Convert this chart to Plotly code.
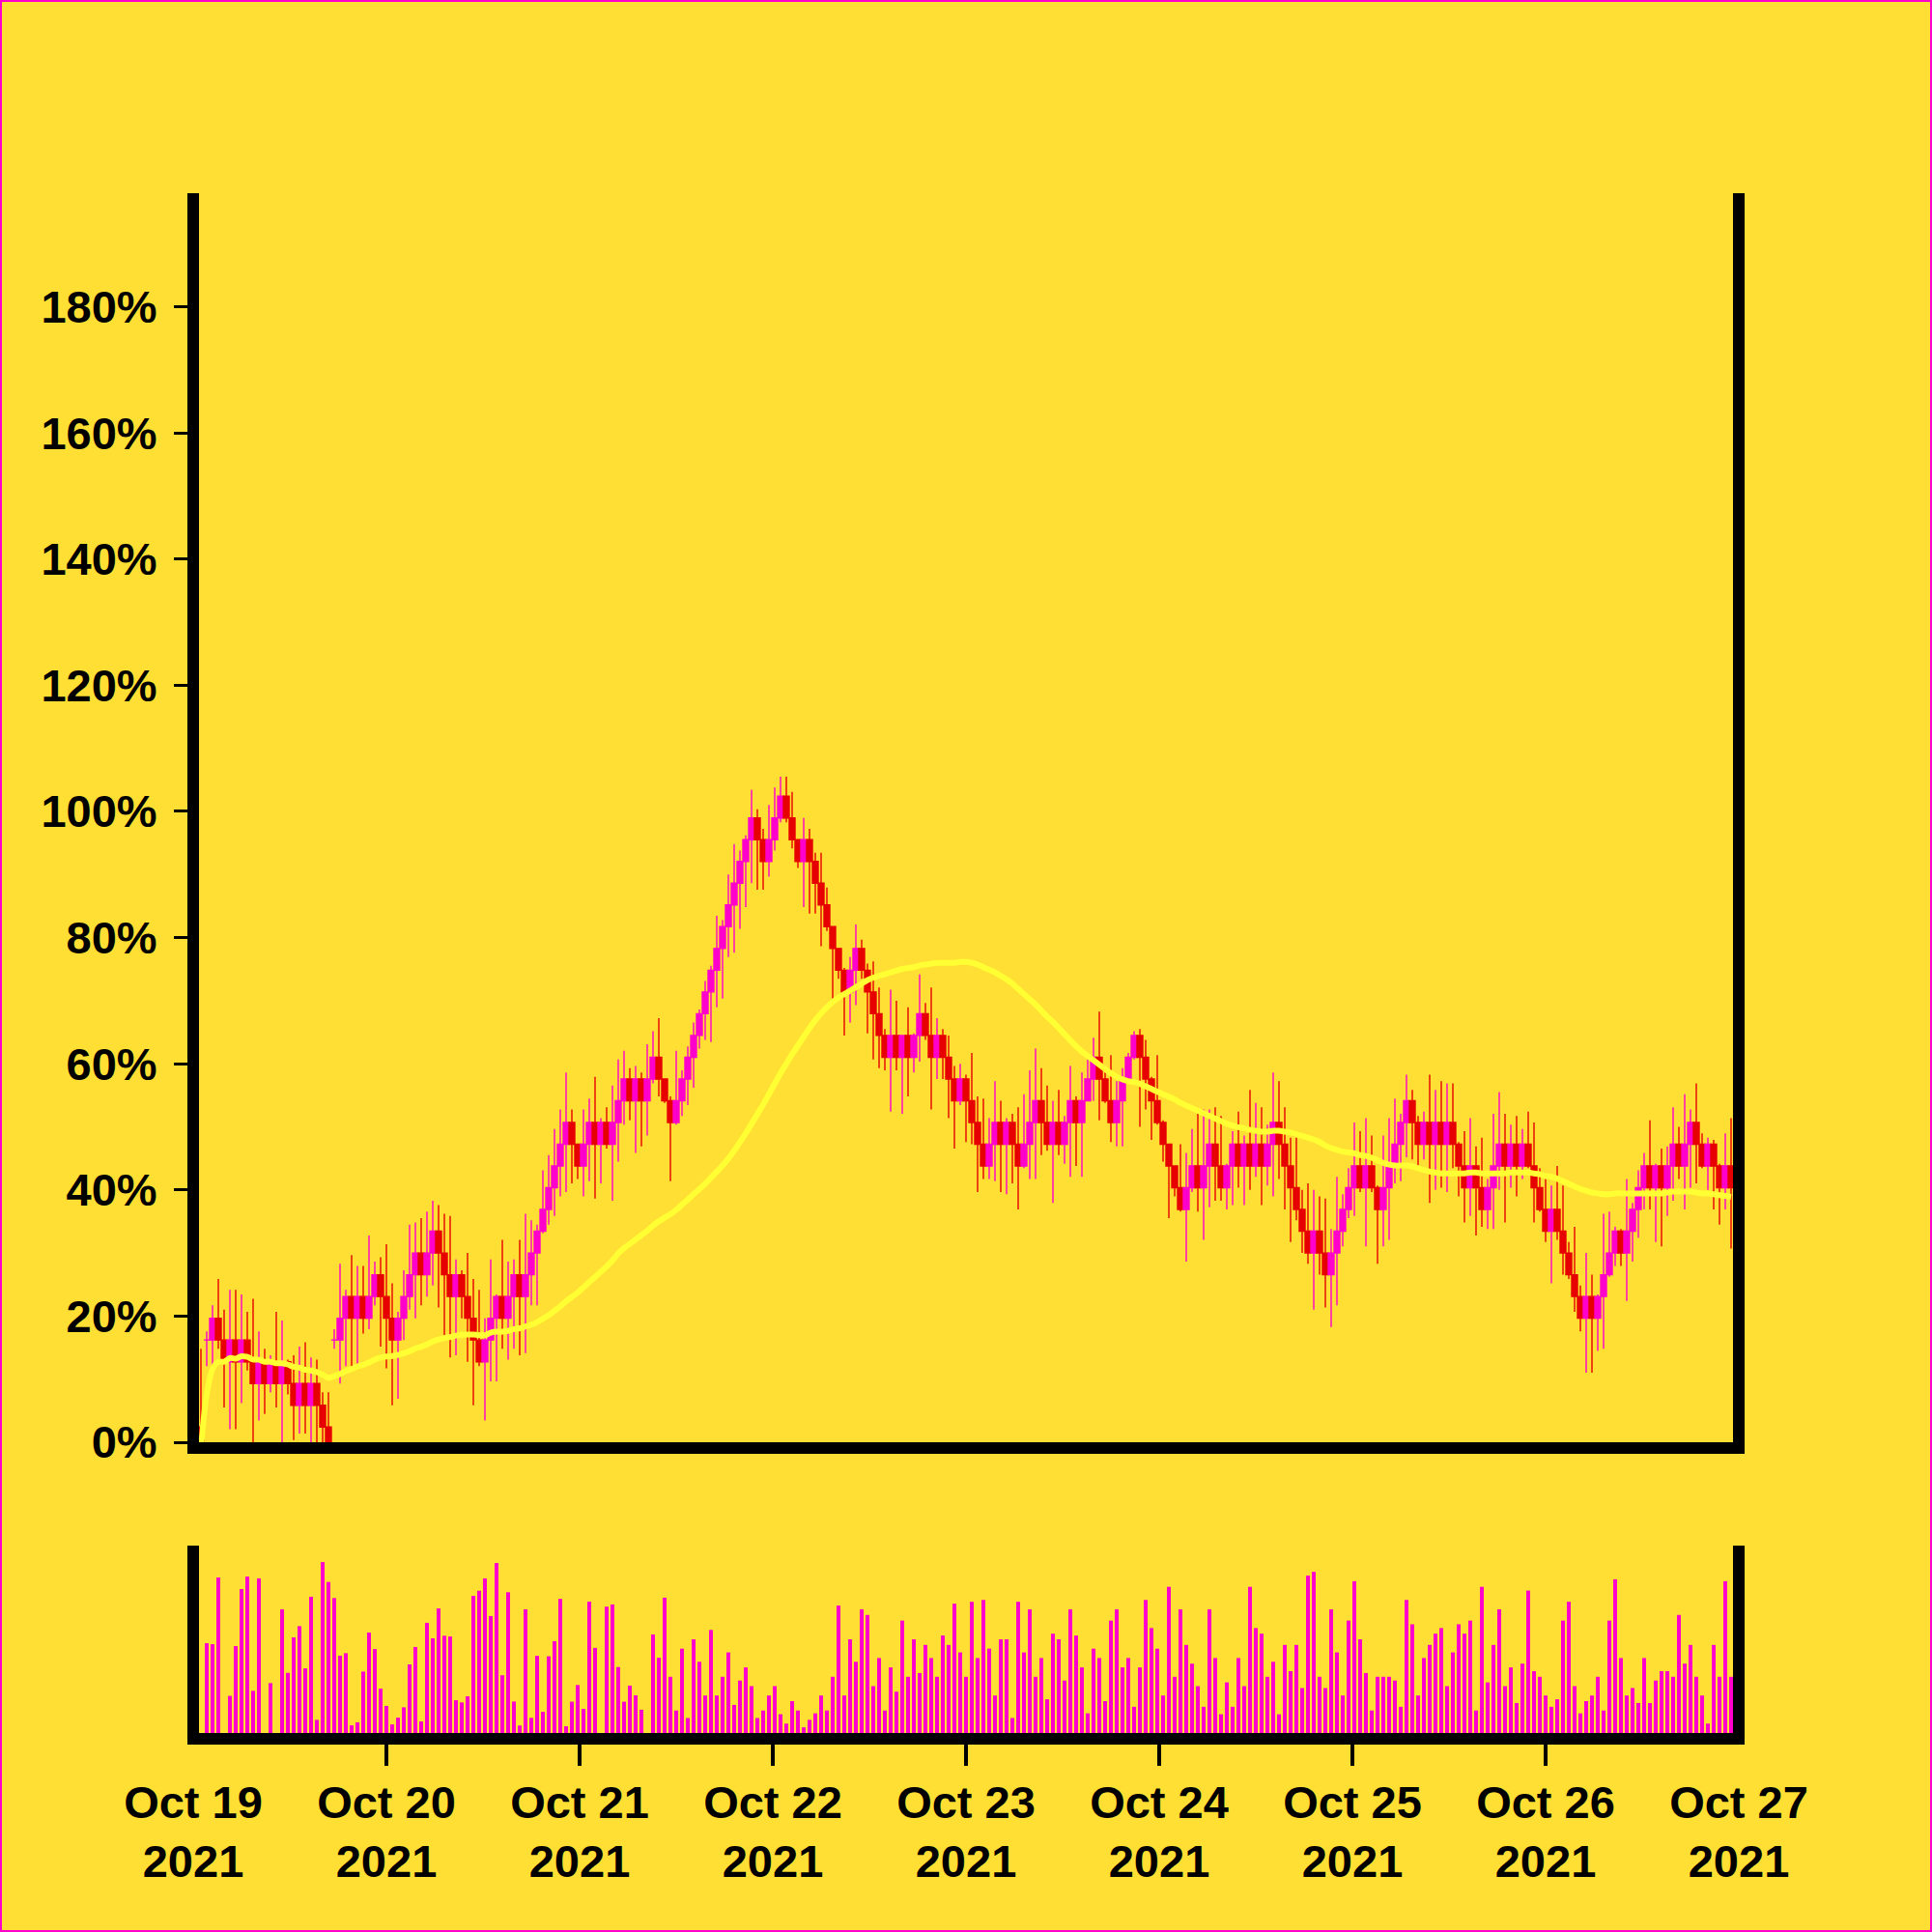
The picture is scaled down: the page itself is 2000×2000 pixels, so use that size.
import pandas as pd
import plotly.graph_objects as go

# ---------------- data ----------------
BASE_PRICE = 290.0          # reference price for 0 %
N_CANDLES = 265
times = pd.date_range("2021-10-19 00:57:36", periods=N_CANDLES, freq="2592s")

open_ = [
    297, 337, 337, 347, 337, 327, 337, 327, 337, 327,
    317, 327, 317, 327, 317, 327, 317, 307, 317, 307,
    317, 307, 297, 337, 337, 347, 357, 347, 357, 347,
    357, 367, 357, 347, 337, 347, 357, 367, 377, 367,
    377, 387, 377, 367, 357, 367, 357, 347, 337, 327,
    337, 347, 357, 347, 357, 367, 357, 367, 377, 387,
    397, 407, 417, 427, 437, 427, 417, 427, 437, 427,
    437, 427, 437, 447, 457, 447, 457, 447, 457, 467,
    457, 447, 437, 447, 457, 467, 477, 487, 497, 507,
    517, 527, 537, 547, 557, 567, 577, 567, 557, 567,
    577, 587, 577, 567, 557, 567, 557, 547, 537, 527,
    517, 507, 497, 507, 517, 507, 497, 487, 477, 467,
    477, 467, 477, 467, 477, 487, 477, 467, 477, 467,
    457, 447, 457, 447, 437, 427, 417, 427, 437, 427,
    437, 427, 417, 427, 437, 447, 437, 427, 437, 427,
    437, 447, 437, 447, 457, 467, 457, 447, 437, 447,
    457, 467, 477, 467, 457, 447, 437, 427, 417, 407,
    397, 407, 417, 407, 417, 427, 417, 407, 417, 427,
    417, 427, 417, 427, 417, 427, 437, 427, 417, 407,
    397, 387, 377, 387, 377, 367, 377, 387, 397, 407,
    417, 407, 417, 407, 397, 407, 417, 427, 437, 447,
    437, 427, 437, 427, 437, 427, 437, 427, 417, 407,
    417, 407, 397, 407, 417, 427, 417, 427, 417, 427,
    417, 407, 397, 387, 397, 387, 377, 367, 357, 347,
    357, 347, 357, 367, 377, 387, 377, 387, 397, 407,
    417, 407, 417, 407, 417, 427, 417, 427, 437, 427,
    417, 427, 417, 407, 417,
]
close = [
    287, 337, 347, 337, 327, 337, 327, 337, 327, 317,
    327, 317, 327, 317, 327, 317, 307, 317, 307, 317,
    307, 297, 287, 337, 347, 357, 347, 357, 347, 357,
    367, 357, 347, 337, 347, 357, 367, 377, 367, 377,
    387, 377, 367, 357, 367, 357, 347, 337, 327, 337,
    347, 357, 347, 357, 367, 357, 367, 377, 387, 397,
    407, 417, 427, 437, 427, 417, 427, 437, 427, 437,
    427, 437, 447, 457, 447, 457, 447, 457, 467, 457,
    447, 437, 447, 457, 467, 477, 487, 497, 507, 517,
    527, 537, 547, 557, 567, 577, 567, 557, 567, 577,
    587, 577, 567, 557, 567, 557, 547, 537, 527, 517,
    507, 497, 507, 517, 507, 497, 487, 477, 467, 477,
    467, 477, 467, 477, 487, 477, 467, 477, 467, 457,
    447, 457, 447, 437, 427, 417, 427, 437, 427, 437,
    427, 417, 427, 437, 447, 437, 427, 437, 427, 437,
    447, 437, 447, 457, 467, 457, 447, 437, 447, 457,
    467, 477, 467, 457, 447, 437, 427, 417, 407, 397,
    407, 417, 407, 417, 427, 417, 407, 417, 427, 417,
    427, 417, 427, 417, 427, 437, 427, 417, 407, 397,
    387, 377, 387, 377, 367, 377, 387, 397, 407, 417,
    407, 417, 407, 397, 407, 417, 427, 437, 447, 437,
    427, 437, 427, 437, 427, 437, 427, 417, 407, 417,
    407, 397, 407, 417, 427, 417, 427, 417, 427, 417,
    407, 397, 387, 397, 387, 377, 367, 357, 347, 357,
    347, 357, 367, 377, 387, 377, 387, 397, 407, 417,
    407, 417, 407, 417, 427, 417, 427, 437, 427, 417,
    427, 417, 407, 417, 407,
]
high = [
    333, 341, 353, 365, 351, 360, 360, 358, 350, 356,
    341, 333, 330, 350, 346, 328, 330, 334, 336, 329,
    328, 313, 313, 342, 372, 360, 376, 371, 371, 385,
    373, 375, 381, 363, 350, 369, 390, 391, 393, 396,
    401, 399, 395, 394, 374, 369, 377, 365, 360, 347,
    374, 358, 383, 373, 374, 383, 395, 392, 390, 415,
    422, 434, 443, 460, 443, 427, 443, 448, 458, 439,
    444, 454, 466, 470, 462, 463, 460, 473, 479, 485,
    457, 449, 470, 461, 472, 483, 489, 502, 509, 532,
    530, 551, 565, 562, 569, 590, 581, 572, 583, 591,
    596, 596, 589, 567, 577, 572, 561, 561, 545, 527,
    517, 508, 513, 528, 521, 510, 511, 499, 480, 498,
    493, 477, 490, 478, 505, 492, 499, 485, 480, 477,
    463, 464, 459, 469, 449, 448, 439, 456, 447, 439,
    441, 444, 450, 461, 471, 462, 454, 447, 452, 440,
    463, 449, 460, 466, 476, 488, 460, 468, 456, 462,
    469, 479, 480, 475, 458, 468, 438, 427, 417, 427,
    423, 434, 441, 443, 443, 444, 440, 418, 433, 442,
    431, 452, 446, 444, 436, 460, 456, 444, 430, 430,
    406, 409, 406, 403, 402, 388, 412, 404, 416, 437,
    433, 439, 431, 408, 431, 439, 448, 441, 459, 452,
    440, 442, 459, 452, 456, 455, 455, 428, 433, 439,
    426, 430, 411, 441, 451, 441, 436, 440, 434, 442,
    437, 416, 411, 408, 417, 408, 382, 389, 362, 377,
    367, 358, 395, 396, 389, 388, 411, 400, 415, 423,
    438, 418, 425, 426, 444, 435, 450, 443, 455, 432,
    430, 429, 418, 432, 439,
]
low = [
    282, 325, 325, 333, 306, 296, 296, 308, 323, 290,
    300, 303, 313, 306, 290, 312, 291, 294, 294, 290,
    290, 290, 282, 333, 317, 325, 325, 325, 340, 342,
    353, 334, 324, 307, 310, 337, 351, 347, 353, 357,
    362, 352, 339, 329, 330, 347, 327, 307, 325, 300,
    318, 318, 333, 328, 333, 330, 331, 353, 353, 386,
    390, 394, 403, 405, 409, 411, 403, 410, 402, 409,
    425, 401, 419, 436, 438, 423, 426, 431, 455, 449,
    446, 410, 436, 440, 445, 453, 471, 475, 474, 490,
    494, 513, 515, 526, 536, 547, 544, 544, 550, 562,
    575, 575, 563, 554, 536, 533, 533, 518, 525, 494,
    503, 477, 483, 491, 503, 478, 466, 462, 461, 442,
    461, 441, 449, 460, 465, 475, 443, 457, 457, 439,
    425, 445, 428, 427, 405, 411, 411, 410, 405, 404,
    409, 397, 416, 411, 411, 422, 424, 400, 422, 418,
    412, 417, 412, 447, 447, 438, 446, 428, 426, 426,
    456, 466, 435, 443, 429, 436, 419, 393, 403, 396,
    373, 405, 396, 383, 398, 401, 401, 397, 399, 407,
    399, 406, 412, 399, 408, 403, 411, 397, 382, 392,
    377, 372, 351, 367, 352, 343, 353, 380, 393, 394,
    405, 380, 405, 372, 380, 383, 409, 410, 421, 420,
    416, 420, 400, 406, 407, 405, 416, 403, 391, 394,
    385, 389, 388, 388, 406, 391, 407, 403, 411, 416,
    391, 396, 382, 363, 383, 367, 365, 350, 341, 322,
    322, 332, 333, 366, 371, 371, 355, 373, 384, 397,
    397, 382, 380, 394, 401, 411, 397, 407, 409, 416,
    406, 397, 390, 397, 379,
]
volume = [
    0, 47.9, 47.4, 83.0, 0, 19.8, 46.4, 76.8, 83.5, 22.5,
    82.5, 0, 26.6, 0, 66.0, 32.1, 51.0, 57.0, 34.5, 72.7,
    7.0, 91.2, 80.6, 72.0, 41.2, 42.6, 4.1, 5.7, 32.8, 53.6,
    44.8, 23.7, 14.4, 4.6, 8.2, 13.7, 36.6, 45.9, 6.2, 58.8,
    50.5, 66.5, 51.9, 51.5, 17.5, 16.3, 19.6, 73.2, 75.9, 82.5,
    62.4, 90.7, 30.8, 75.1, 16.8, 4.0, 66.0, 8.1, 41.2, 11.3,
    40.9, 49.0, 71.6, 3.6, 16.7, 25.6, 12.9, 70.1, 45.4, 0,
    67.4, 68.6, 35.2, 16.7, 25.3, 20.1, 12.4, 0, 52.6, 40.2,
    72.2, 30, 12, 45, 8, 50, 38, 20, 55, 20,
    30, 43, 15, 28, 35, 25, 8, 12, 20, 25,
    10, 5, 17, 12, 3, 7, 10.5, 20, 12, 30,
    68, 20, 50, 38, 66, 63, 25, 40, 12, 35,
    22, 60, 30, 50, 32, 47, 40, 30, 52, 47,
    69, 43, 30, 70, 40, 71, 45, 20, 50, 50,
    8, 70, 43, 66, 30, 40, 18, 53, 50, 28,
    66, 52, 35, 10.5, 45, 40, 17, 60, 66, 35,
    40, 14, 35, 71, 56, 45, 20, 78, 30, 66,
    47, 37, 25, 14, 66, 40, 10, 27, 14, 40,
    25, 78, 56, 53, 30, 38, 10, 47, 33, 47,
    24, 84, 86, 30, 24, 66, 43, 20, 60, 81,
    50, 32, 12, 30, 30, 30, 28, 14, 71, 58,
    20, 40, 47, 53, 56, 25, 43, 58, 53, 60,
    12, 78, 27, 47, 66, 25, 35, 16, 37, 76,
    33, 30, 20, 14, 18, 60, 70, 25, 10.5, 17,
    20, 30, 12, 60, 82, 40, 20, 24, 16, 40,
    16, 28, 33, 33, 30, 63, 37, 47, 30, 20,
    5, 47, 30, 81, 30,
]
MA_WINDOW = 50
y_ticks = [0, 20, 40, 60, 80, 100, 120, 140, 160, 180]
y_tick_text = [f"{v}%" for v in y_ticks]
day_ticks = pd.date_range("2021-10-19", "2021-10-27", freq="D")
day_labels = [d.strftime("%b %d") + "<br>" + d.strftime("%Y") for d in day_ticks]


def to_pct(values):
    return [(v / BASE_PRICE - 1.0) * 100.0 for v in values]


close_pct = to_pct(close)
ma = pd.Series(close_pct).rolling(MA_WINDOW, min_periods=1).mean()

# ---------------- style ----------------
BG = "#FFDF33"
PINK = "#FF00CC"
RED = "#E60000"
MA_COLOR = "#FFFF33"
FONT = dict(family="Liberation Sans, Arial, Helvetica, sans-serif",
            size=47, color="black", weight="bold")

W = H = 2000
L, R, T, B = 200, 200, 200, 206
plot_h = H - T - B
main_bottom_px = 1493
vol_top_px = 1600
main_dom0 = (H - B - main_bottom_px) / plot_h
vol_dom1 = (H - B - vol_top_px) / plot_h
x_range = ["2021-10-19", "2021-10-27"]

fig = go.Figure()
fig.add_trace(go.Candlestick(
    x=times, open=to_pct(open_), high=to_pct(high), low=to_pct(low), close=close_pct,
    increasing=dict(line=dict(color=PINK, width=1.4), fillcolor=PINK),
    decreasing=dict(line=dict(color=RED, width=1.4), fillcolor=RED),
    whiskerwidth=0, xaxis="x", yaxis="y", showlegend=False, hoverinfo="skip",
))
fig.add_trace(go.Scatter(
    x=times, y=ma, mode="lines", line=dict(color=MA_COLOR, width=6, shape="spline"),
    xaxis="x", yaxis="y", showlegend=False, hoverinfo="skip",
))
fig.add_trace(go.Bar(
    x=times, y=volume, marker=dict(color=PINK, line=dict(width=0)),
    width=0.02 * 86400000, xaxis="x2", yaxis="y2", showlegend=False, hoverinfo="skip",
))
# invisible anchor so the label-only axis is rendered
fig.add_trace(go.Scatter(x=[times[0]], y=[0], mode="markers", marker=dict(opacity=0),
                         xaxis="x3", yaxis="y2", showlegend=False, hoverinfo="skip"))

fig.update_layout(
    width=W, height=H, paper_bgcolor=BG, plot_bgcolor=BG,
    margin=dict(l=L, r=R, t=T, b=B, pad=0), showlegend=False,
    boxgap=0, boxgroupgap=0,
    xaxis=dict(domain=[0, 1], anchor="y", range=x_range, type="date",
               showline=True, linewidth=12, linecolor="black",
               showticklabels=False, ticks="", showgrid=False, zeroline=False,
               rangeslider=dict(visible=False)),
    yaxis=dict(domain=[main_dom0, 1], anchor="x", range=[0, 198],
               tickmode="array", tickvals=y_ticks, ticktext=y_tick_text,
               ticks="outside", ticklen=19, tickwidth=3, tickcolor="black",
               showgrid=False, zeroline=False, showline=False,
               tickfont=FONT, ticklabelstandoff=8),
    xaxis2=dict(domain=[0, 1], anchor="y2", range=x_range, type="date",
                showline=True, linewidth=12, linecolor="black",
                tickmode="array", tickvals=list(day_ticks[1:-1]),
                ticks="outside", ticklen=22, tickwidth=4, tickcolor="black",
                showticklabels=False, showgrid=False, zeroline=False),
    xaxis3=dict(overlaying="x2", anchor="y2", range=x_range, type="date",
                showline=False, ticks="", showgrid=False, zeroline=False,
                tickmode="array", tickvals=list(day_ticks), ticktext=day_labels,
                tickfont=FONT, ticklabelstandoff=40),
    yaxis2=dict(domain=[0, vol_dom1], anchor="x2", range=[0, 100],
                showticklabels=False, ticks="", showgrid=False, zeroline=False),
)

# frame lines (left/right of both panels) and outer border
main_line_y0 = (H - B - 1505) / plot_h
vol_line_y0 = (H - B - 1806) / plot_h
for xp in (0, 1):
    fig.add_shape(type="line", xref="paper", yref="paper", x0=xp, x1=xp,
                  y0=main_line_y0, y1=1, line=dict(color="black", width=12))
    fig.add_shape(type="line", xref="paper", yref="paper", x0=xp, x1=xp,
                  y0=vol_line_y0, y1=vol_dom1, line=dict(color="black", width=12))
fig.add_shape(type="rect", xref="paper", yref="paper",
              x0=(1 - L) / (W - L - R), x1=(W - 1 - L) / (W - L - R),
              y0=(H - B - (H - 1)) / plot_h, y1=(H - B - 1) / plot_h,
              line=dict(color="#FF00CC", width=2))

fig.write_html("out.html", config={"displayModeBar": False},
               post_script="document.body.style.margin='0px';")
